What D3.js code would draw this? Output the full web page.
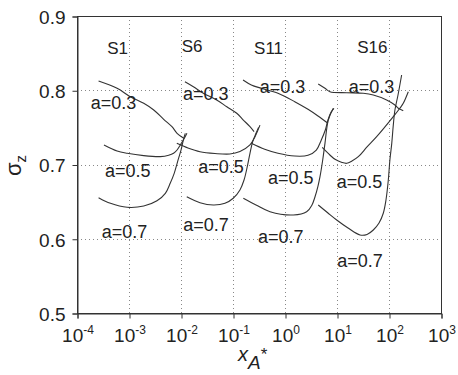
<!DOCTYPE html>
<html>
<head>
<meta charset="utf-8">
<script src="https://cdn.jsdelivr.net/npm/d3@7"></script>
<style>
  body { margin: 0; background: #fff; }
  svg { display: block; font-family: 'Liberation Sans', Arial, sans-serif; }
</style>
</head>
<body>
<svg id="chart"></svg>
<script>
const SVG_WIDTH = 458;
const SVG_HEIGHT = 375;
const MARGIN = { top: 16, right: 17, bottom: 62, left: 77 };
const INK = '#333';

const xDecades = [-4, -3, -2, -1, 0, 1, 2, 3];
const yTicks = [0.5, 0.6, 0.7, 0.8, 0.9];

// [xA*, sigma_z]
const s1a03 = [[2.6e-4, 0.8125], [5.9e-4, 0.8026], [1.06e-3, 0.7913], [1.92e-3, 0.7824], [2.99e-3, 0.7734],
    [4.65e-3, 0.7609], [6.7e-3, 0.7509], [8.4e-3, 0.7420], [1.13e-2, 0.7353]];
const s1a05 = [[3.3e-4, 0.7263], [5.9e-4, 0.7182], [9.2e-4, 0.7151], [1.92e-3, 0.7119], [4.0e-3, 0.7106],
    [5.8e-3, 0.7124], [7.2e-3, 0.7151], [8.4e-3, 0.7195], [9.7e-3, 0.7263], [1.16e-2, 0.7353], [1.3e-2, 0.7420]];
const s1a07 = [[2.6e-4, 0.6553], [4.4e-4, 0.6477], [9.2e-4, 0.6424], [1.92e-3, 0.6441], [3.45e-3, 0.6512],
    [5.0e-3, 0.6612], [6.2e-3, 0.6747], [7.4e-3, 0.6881], [8.6e-3, 0.7038], [1.0e-2, 0.7195],
    [1.13e-2, 0.7353], [1.21e-2, 0.7420]];

const s6a03 = [[1.19e-2, 0.8115], [1.73e-2, 0.8048], [2.69e-2, 0.7959], [4.85e-2, 0.7869], [7.6e-2, 0.7778],
    [0.118, 0.7690], [0.158, 0.7599], [0.212, 0.7509], [0.254, 0.7442]];
const s6a05 = [[8.3e-3, 0.7285], [1.36e-2, 0.7222], [2.32e-2, 0.7172], [4.5e-2, 0.7148], [8.7e-2, 0.7141],
    [0.136, 0.7175], [0.212, 0.7263], [0.265, 0.7374], [0.33, 0.7530]];
const s6a07 = [[1.29e-2, 0.6566], [2.32e-2, 0.6486], [4.18e-2, 0.6455], [7.0e-2, 0.6477], [0.101, 0.6545],
    [0.136, 0.6657], [0.163, 0.6791], [0.188, 0.6970], [0.212, 0.7151], [0.239, 0.7307],
    [0.277, 0.7420], [0.31, 0.7500]];

const s11a03 = [[0.156, 0.8138], [0.225, 0.8071], [0.35, 0.8026], [0.733, 0.7959], [1.54, 0.7846],
    [2.77, 0.7743], [4.31, 0.7653], [6.7, 0.7555]];
const s11a05 = [[0.225, 0.7285], [0.407, 0.7205], [0.733, 0.7151], [1.54, 0.7114], [2.77, 0.7124],
    [4.0, 0.7195], [4.99, 0.7330], [5.96, 0.7465], [6.7, 0.7599], [7.76, 0.7711], [8.75, 0.7757]];
const s11a07 = [[0.158, 0.6545], [0.277, 0.6455], [0.515, 0.6364], [1.45, 0.6320], [2.61, 0.6364],
    [3.30, 0.6455], [3.78, 0.6566], [4.31, 0.6710], [4.71, 0.6836], [5.31, 0.7061], [5.87, 0.7285],
    [6.8, 0.7599], [8.5, 0.7757]];

const s16a03 = [[4.36, 0.8084], [5.87, 0.8026], [7.3, 0.7980], [15.4, 0.7967], [32, 0.7959],
    [49.9, 0.7936], [90, 0.7869], [130, 0.7801], [151, 0.7757], [188, 0.7725]];
const s16a05 = [[5.2, 0.7230], [7.3, 0.7128], [9.16, 0.7070], [12.5, 0.7027], [15.4, 0.7016], [19.4, 0.7047],
    [25.7, 0.7105], [37.8, 0.7236], [57.9, 0.7374], [121, 0.7644], [163, 0.7761], [188, 0.7824], [235, 0.7980]];
const s16a07 = [[4.36, 0.6455], [6.7, 0.6347], [9.86, 0.6253], [16.3, 0.6145], [27.7, 0.6051], [37.8, 0.6058],
    [49.9, 0.6118], [64.3, 0.6212], [77.6, 0.6343], [87.5, 0.6522], [97, 0.6791], [104, 0.7061],
    [113, 0.7285], [121, 0.7532], [130, 0.7734], [149, 0.7936], [175, 0.8205]];

const curves = [s1a03, s1a05, s1a07, s6a03, s6a05, s6a07, s11a03, s11a05, s11a07, s16a03, s16a05, s16a07];

// text, x, y (left end / baseline)
const setLabels = [['S1', 3.8e-4, 0.8488], ['S6', 1.03e-2, 0.8519], ['S11', 0.254, 0.8488], ['S16', 24.5, 0.8498]];
const aLabels = [
    ['a=0.3', 1.83e-4, 0.7743], ['a=0.5', 3.45e-4, 0.6836], ['a=0.7', 3.0e-4, 0.6014],
    ['a=0.3', 1.09e-2, 0.7862], ['a=0.5', 2.15e-2, 0.6881], ['a=0.7', 1.1e-2, 0.6108],
    ['a=0.3', 0.326, 0.7959], ['a=0.5', 0.471, 0.6737], ['a=0.7', 0.303, 0.5939],
    ['a=0.3', 16.8, 0.7967], ['a=0.5', 9.86, 0.6679], ['a=0.7', 10.1, 0.5624]
];

const svg = d3.select('#chart')
    .attr('width', SVG_WIDTH)
    .attr('height', SVG_HEIGHT);

const x = d3.scaleLog()
    .domain([1e-4, 1e3])
    .range([MARGIN.left, SVG_WIDTH - MARGIN.right]);

const y = d3.scaleLinear()
    .domain([0.5, 0.9])
    .range([SVG_HEIGHT - MARGIN.bottom, MARGIN.top]);

const [x0, x1] = x.range();
const [y0, y1] = y.range();

// dotted grid
const grid = svg.append('g').attr('class', 'grid')
    .attr('stroke', '#888')
    .attr('stroke-width', 1)
    .attr('stroke-dasharray', '1,3');

grid.selectAll('.vgrid')
    .data(xDecades.slice(1, -1))
    .join('line')
    .attr('class', 'vgrid')
    .attr('x1', d => x(Math.pow(10, d)) + 0.5)
    .attr('x2', d => x(Math.pow(10, d)) + 0.5)
    .attr('y1', y1)
    .attr('y2', y0);

grid.selectAll('.hgrid')
    .data([0.6, 0.7, 0.8])
    .join('line')
    .attr('class', 'hgrid')
    .attr('x1', x0)
    .attr('x2', x1)
    .attr('y1', d => Math.round(y(d)) + 0.5)
    .attr('y2', d => Math.round(y(d)) + 0.5);

// frame
svg.append('rect')
    .attr('x', x0 + 0.5)
    .attr('y', y1 + 0.5)
    .attr('width', x1 - x0)
    .attr('height', y0 - y1)
    .attr('fill', 'none')
    .attr('stroke', INK)
    .attr('stroke-width', 1);

// axes
const xAxis = svg.append('g')
    .attr('transform', `translate(0.5,${Math.round(y0) + 0.5})`)
    .call(d3.axisBottom(x)
        .tickValues(xDecades.map(d => Math.pow(10, d)))
        .tickSize(5)
        .tickFormat(''));
xAxis.select('.domain').attr('stroke', INK);
xAxis.selectAll('.tick line').attr('stroke', INK);

const yAxis = svg.append('g')
    .attr('transform', `translate(${x0 + 0.5},0.5)`)
    .call(d3.axisLeft(y)
        .tickValues(yTicks)
        .tickSize(5)
        .tickFormat(d3.format('.1f')));
yAxis.select('.domain').attr('stroke', INK);
yAxis.selectAll('.tick line').attr('stroke', INK);
yAxis.selectAll('.tick text')
    .attr('x', -12)
    .attr('dy', '0.36em')
    .attr('fill', '#222')
    .style('font-size', '19px')
    .style('font-family', "'Liberation Sans', Arial, sans-serif");

// x tick labels as 10^n
const xLabels = svg.append('g')
    .selectAll('text')
    .data(xDecades)
    .join('text')
    .attr('x', d => x(Math.pow(10, d)) + 1)
    .attr('y', 342)
    .attr('text-anchor', 'middle')
    .attr('fill', '#222')
    .style('font-size', '19px');
xLabels.append('tspan').text('10');
xLabels.append('tspan')
    .attr('dy', -8)
    .style('font-size', '12px')
    .text(d => String(d));

// curves
const line = d3.line()
    .x(d => x(d[0]))
    .y(d => y(d[1]))
    .curve(d3.curveCatmullRom.alpha(0.5));

svg.append('g')
    .selectAll('path')
    .data(curves)
    .join('path')
    .attr('d', line)
    .attr('fill', 'none')
    .attr('stroke', INK)
    .attr('stroke-width', 1.1);

// labels
svg.append('g')
    .selectAll('text')
    .data(setLabels.concat(aLabels))
    .join('text')
    .attr('x', d => x(d[1]))
    .attr('y', d => y(d[2]))
    .attr('fill', '#222')
    .style('font-size', d => d[0].startsWith('S') ? '17px' : '18px')
    .text(d => d[0]);

// axis titles
const xTitle = svg.append('text')
    .attr('x', 238)
    .attr('y', 361)
    .attr('fill', '#222')
    .style('font-style', 'italic')
    .style('font-size', '20px');
xTitle.append('tspan').text('x');
xTitle.append('tspan').attr('dy', 8).style('font-size', '19px').text('A');
xTitle.append('tspan').attr('dy', -9).style('font-size', '17px').style('font-style', 'normal').text('*');

const yTitle = svg.append('text')
    .attr('transform', 'translate(21,176) rotate(-90)')
    .attr('fill', '#222')
    .style('font-size', '22px');
yTitle.append('tspan').text('σ');
yTitle.append('tspan').attr('dy', 5).style('font-size', '15px').text('z');
</script>
</body>
</html>
